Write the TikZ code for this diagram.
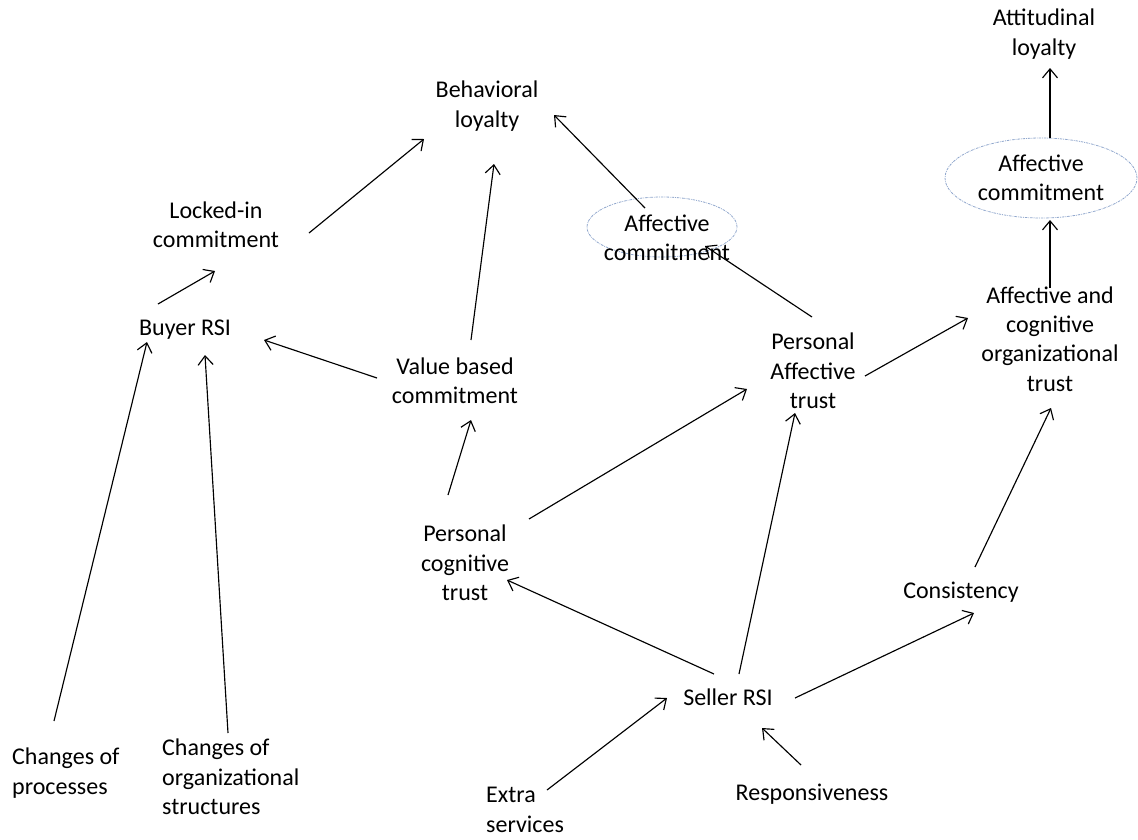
\documentclass[tikz,border=0pt]{standalone}
\usepackage{fontspec}
\setmainfont{Carlito}
\usetikzlibrary{arrows.meta,shapes.geometric}
\definecolor{ellcol}{HTML}{8FA6CC}
\tikzset{
  lbl/.style={font=\fontsize{24}{29.3}\selectfont, align=center, inner sep=0pt, text=black},
  lblL/.style={lbl, align=left, anchor=west},
  conn/.style={line width=1.15pt, -{Straight Barb[length=9pt,width=15pt,line width=1.15pt]}},
  ell/.style={ellipse, draw=ellcol, line width=0.8pt, dash pattern=on 2.5pt off 1pt on 0.8pt off 1pt, inner sep=0pt}
}
\newcommand{\sh}[3]{([shift={(#1,#2)}]#3.center)}
\begin{document}
\begin{tikzpicture}[x=1pt,y=-1pt]
\useasboundingbox (0,0) rectangle (1138,839);
% ellipses
\node[ell, minimum width=150pt, minimum height=60pt] (ellM) at (662,227) {};
\node[ell, minimum width=192pt, minimum height=80pt] (ellR) at (1041,178) {};
% labels
\node[lbl] (att) at (1044,34) {Attitudinal\\loyalty};
\node[lbl] (beh) at (487,106) {Behavioral\\loyalty};
\node[lbl] (ellRt) at (1041,178) {Affective\\commitment};
\node[lbl] (ellMt) at (667,238) {Affective\\commitment};
\node[lbl] (lock) at (216,225) {Locked-in\\commitment};
\node[lbl] (buyer) at (185,330) {Buyer RSI};
\node[lbl] (value) at (455,381) {Value based\\commitment};
\node[lbl] (paff) at (813,371) {Personal\\Affective\\trust};
\node[lbl] (org) at (1050,339) {Affective and\\cognitive\\organizational\\trust};
\node[lbl] (pcog) at (465,563) {Personal\\cognitive\\trust};
\node[lbl] (cons) at (961,592) {Consistency};
\node[lbl] (seller) at (728,697) {Seller RSI};
\node[lbl] (resp) at (812,794) {Responsiveness};
\node[lblL] (extra) at (486,810) {Extra\\services};
\node[lblL] (proc) at (12,773) {Changes of\\processes};
\node[lblL] (orgch) at (162,777) {Changes of\\organizational\\structures};
% connectors
\draw[conn] \sh{93}{8}{lock} -- \sh{-63}{33}{beh};
\draw[conn] \sh{-27}{-26}{buyer} -- \sh{-1}{46}{lock};
\draw[conn] \sh{16}{-41}{value} -- \sh{7}{58}{beh};
\draw[conn] \sh{-78}{-3}{value} -- \sh{79}{10}{buyer};
\draw[conn] \sh{-17}{-68}{pcog} -- \sh{16}{39}{value};
\draw[conn] \sh{64}{-44}{pcog} -- \sh{-66}{18}{paff};
\draw[conn] \sh{-14}{-23}{seller} -- \sh{42}{17}{pcog};
\draw[conn] \sh{11}{-23}{seller} -- \sh{-18}{42}{paff};
\draw[conn] \sh{67}{1}{seller} -- \sh{13}{21}{cons};
\draw[conn] ([shift={(61,-20)}]extra.west) -- \sh{-61}{1}{seller};
\draw[conn] \sh{-11}{-29}{resp} -- \sh{34}{31}{seller};
\draw[conn] \sh{14}{-25}{cons} -- \sh{1}{69}{org};
\draw[conn] \sh{52}{5}{paff} -- \sh{-82}{-21}{org};
\draw[conn] \sh{-1}{-54}{paff} -- \sh{43}{19}{ellM};
\draw[conn] \sh{-17}{-19}{ellM} -- \sh{67}{9}{beh};
\draw[conn] \sh{0}{-51}{org} -- \sh{9}{42}{ellR};
\draw[conn] \sh{9}{-40}{ellR} -- \sh{6}{34}{att};
\draw[conn] ([shift={(42,-52)}]proc.west) -- \sh{-38}{12}{buyer};
\draw[conn] ([shift={(66,-44)}]orgch.west) -- \sh{20}{25}{buyer};
\end{tikzpicture}
\end{document}
